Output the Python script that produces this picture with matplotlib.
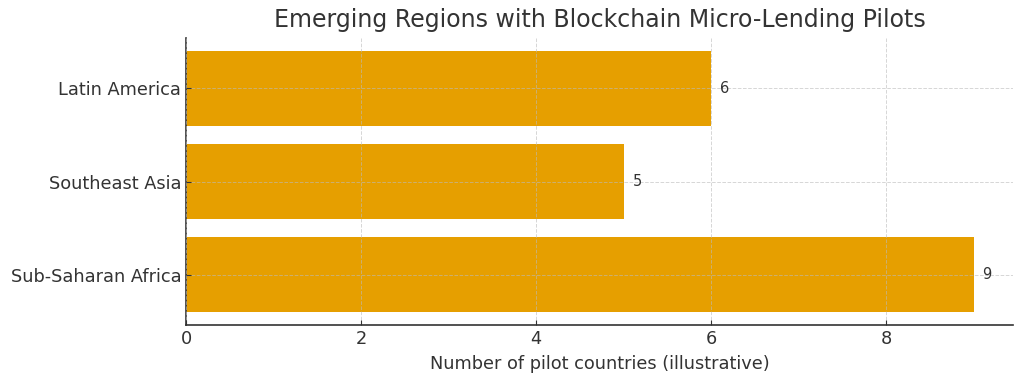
import matplotlib
matplotlib.use("Agg")
import matplotlib.pyplot as plt

plt.rcParams['font.family'] = ['DejaVu Sans']

regions = ["Sub-Saharan Africa", "Southeast Asia", "Latin America"]
pilots = [9, 5, 6]

fig = plt.figure(figsize=(10.24, 3.82), dpi=100)
ax = fig.add_axes([186/1024, 1-325/382, (1013-186)/1024, (325-38)/382])

bars = ax.barh(regions, pilots, color="#E69F00", height=0.8)
for b, v in zip(bars, pilots):
    ax.text(b.get_width() + 0.1, b.get_y() + b.get_height()/2, str(v),
            va="center", ha="left", fontsize=10.5, color="#333333")

ax.set_title("Emerging Regions with Blockchain Micro-Lending Pilots", fontsize=17, color="#333333", pad=8)
ax.set_xlabel("Number of pilot countries (illustrative)", fontsize=12.8, color="#333333", labelpad=5)
ax.tick_params(axis="both", labelsize=12.8, colors="#333333", direction="in", length=3.5)
ax.grid(True, linestyle="--", linewidth=0.7, color="#bbbbbb", alpha=0.6)
ax.set_axisbelow(False)
for s in ["top", "right"]:
    ax.spines[s].set_visible(False)
for s in ["left", "bottom"]:
    ax.spines[s].set_color("#333333")
    ax.spines[s].set_linewidth(1.2)

fig.savefig("out.png", dpi=100)
